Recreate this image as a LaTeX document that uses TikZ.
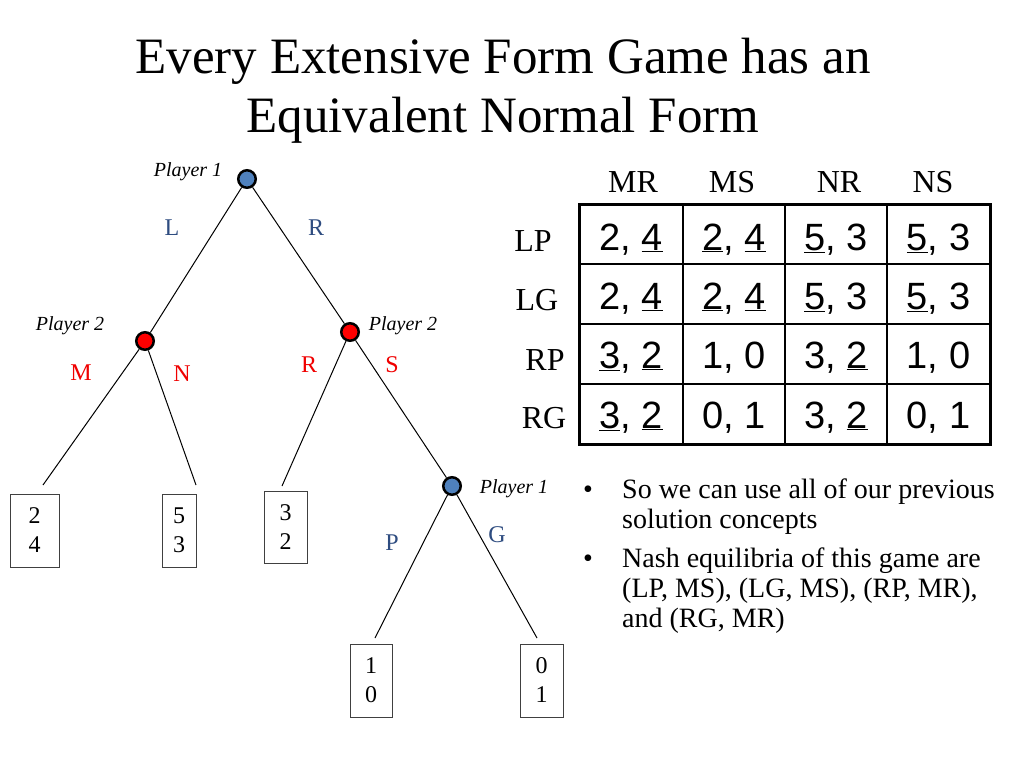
\documentclass[tikz,border=0pt]{standalone}
\usepackage{fontspec}
\setmainfont{Liberation Serif}
\newfontfamily\arialfont{Liberation Sans}
\definecolor{nodeblue}{RGB}{79,129,189}
\definecolor{labblue}{RGB}{46,76,128}
\definecolor{labred}{RGB}{240,0,0}
\begin{document}
\begin{tikzpicture}[x=1pt,y=-1pt,
  p1node/.style={circle,draw=black,line width=2.5pt,fill=nodeblue,minimum size=17.5pt,inner sep=0pt},
  p2node/.style={circle,draw=black,line width=2.5pt,fill=red,minimum size=17.5pt,inner sep=0pt},
  edge/.style={draw=black,line width=1pt},
  leaf/.style={draw=black!75,line width=1pt,inner sep=0pt,align=center,font=\fontsize{24}{29}\selectfont},
  plab/.style={font=\fontsize{20}{22}\selectfont\itshape,inner sep=0pt},
  blab/.style={text=labblue,font=\fontsize{24}{26}\selectfont,inner sep=0pt},
  rlab/.style={text=labred,font=\fontsize{24}{26}\selectfont,inner sep=0pt},
  ttl/.style={font=\fontsize{51}{58}\selectfont,inner sep=0pt,anchor=base},
  hdr/.style={font=\fontsize{32}{34}\selectfont,inner sep=0pt,anchor=base},
  cell/.style={font=\arialfont\fontsize{38}{40}\selectfont,inner sep=0pt,anchor=base},
  btxt/.style={font=\fontsize{28}{30}\selectfont,inner sep=0pt,anchor=base west,align=left},
  bdot/.style={font=\fontsize{28}{30}\selectfont,inner sep=0pt,anchor=base}
]
\useasboundingbox (0,0) rectangle (1024,768);
\fill[white] (0,0) rectangle (1024,768);

% title
\node[ttl] (title1) at (503,74) {Every Extensive Form Game has an};
\node[ttl] (title2) at (503,132) {Equivalent Normal Form};

% tree nodes
\node[p1node] (r) at (247,179) {};
\node[p2node] (a) at (145,341) {};
\node[p2node] (b) at (350,332) {};
\node[p1node] (c) at (452,486) {};

% leaves
\node[leaf,minimum width=49pt,minimum height=73pt] (l1) at (34.5,530.5) {2\\4};
\node[leaf,minimum width=34pt,minimum height=73pt] (l2) at (179,530.5) {5\\3};
\node[leaf,minimum width=43pt,minimum height=72pt] (l3) at (285.5,527) {3\\2};
\node[leaf,minimum width=42pt,minimum height=73pt] (l4) at (371,680.5) {1\\0};
\node[leaf,minimum width=43pt,minimum height=73pt] (l5) at (541.5,680.5) {0\\1};

% free ends of branches just above the leaves
\coordinate (e1) at (43,485);
\coordinate (e2) at (196,485);
\coordinate (e3) at (282,486);
\coordinate (e4) at (375,638);
\coordinate (e5) at (537,638);

\draw[edge] (r) -- (a);
\draw[edge] (r) -- (b);
\draw[edge] (a) -- (e1);
\draw[edge] (a) -- (e2);
\draw[edge] (b) -- (e3);
\draw[edge] (b) -- (c);
\draw[edge] (c) -- (e4);
\draw[edge] (c) -- (e5);

% labels
\node[plab] (pl1) at (188,172) {Player 1};
\node[plab] (pl2a) at (70,326) {Player 2};
\node[plab] (pl2b) at (403,326) {Player 2};
\node[plab] (pl1b) at (514,489) {Player 1};
\node[blab] (lL) at (172,228) {L};
\node[blab] (lR) at (316,228) {R};
\node[rlab] (lM) at (81,373) {M};
\node[rlab] (lN) at (182,374) {N};
\node[rlab] (lR2) at (309,365) {R};
\node[rlab] (lS) at (392,365) {S};
\node[blab] (lP) at (392,543) {P};
\node[blab] (lG) at (497,535) {G};

% table grid
\draw[line width=1.5pt] (683,204) -- (683,444) (785,204) -- (785,444) (887,204) -- (887,444);
\draw[line width=1.5pt] (579,264) -- (990,264) (579,324) -- (990,324) (579,384) -- (990,384);
\draw[line width=3pt] (579,204) rectangle (990,444);

% headers
\node[hdr] (hMR) at (633,192) {MR};
\node[hdr] (hMS) at (732,192) {MS};
\node[hdr] (hNR) at (839,192) {NR};
\node[hdr] (hNS) at (933,192) {NS};
\node[hdr] (rLP) at (533,251) {LP};
\node[hdr] (rLG) at (537,310) {LG};
\node[hdr] (rRP) at (545,370) {RP};
\node[hdr] (rRG) at (544,428) {RG};

% cells
\node[cell] (c11) at (631,250) {2, \underline{4}};
\node[cell] (c12) at (734,250) {\underline{2}, \underline{4}};
\node[cell] (c13) at (836,250) {\underline{5}, 3};
\node[cell] (c14) at (938.5,250) {\underline{5}, 3};
\node[cell] (c21) at (631,309) {2, \underline{4}};
\node[cell] (c22) at (734,309) {\underline{2}, \underline{4}};
\node[cell] (c23) at (836,309) {\underline{5}, 3};
\node[cell] (c24) at (938.5,309) {\underline{5}, 3};
\node[cell] (c31) at (631,368) {\underline{3}, \underline{2}};
\node[cell] (c32) at (734,368) {1, 0};
\node[cell] (c33) at (836,368) {3, \underline{2}};
\node[cell] (c34) at (938.5,368) {1, 0};
\node[cell] (c41) at (631,428) {\underline{3}, \underline{2}};
\node[cell] (c42) at (734,428) {0, 1};
\node[cell] (c43) at (836,428) {3, \underline{2}};
\node[cell] (c44) at (938.5,428) {0, 1};

% bullets (base anchor of a multi-line node = baseline of its last line)
\node[bdot] (d1) at (588,498) {•};
\node[btxt] (t1) at (622,528) {So we can use all of our previous\\solution concepts};
\node[bdot] (d2) at (588,567) {•};
\node[btxt] (t2) at (622,627) {Nash equilibria of this game are\\(LP, MS), (LG, MS), (RP, MR),\\and (RG, MR)};
\end{tikzpicture}
\end{document}
